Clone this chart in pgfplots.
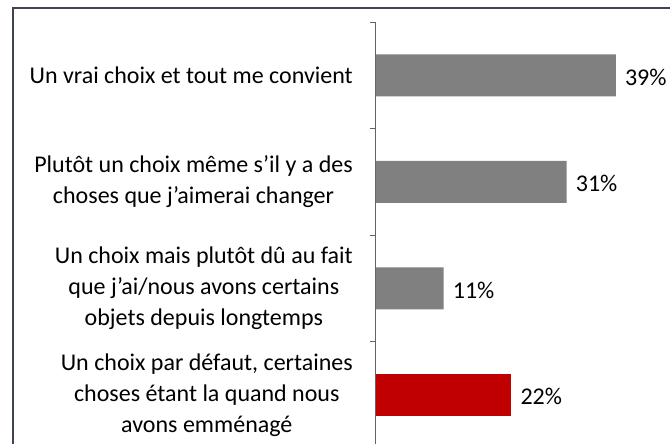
\documentclass[border=0pt]{standalone}
\usepackage{pgfplots}
\pgfplotsset{compat=1.18}
\usepackage{fontspec}
\setmainfont{Carlito}
\definecolor{barGray}{RGB}{128,128,128}
\definecolor{barRed}{RGB}{192,0,0}
\definecolor{axisGray}{RGB}{95,99,110}
\definecolor{frameGray}{RGB}{62,68,80}
\begin{document}
\begin{tikzpicture}
\path[use as bounding box] (0,0) rectangle (670pt,-444pt);
\clip (0,0) rectangle (670pt,-444pt);
\draw[frameGray, line width=2pt] (12.5pt,-8pt) rectangle (720pt,-500pt);
\begin{axis}[
    at={(376pt,-22pt)}, anchor=north west,
    scale only axis,
    width=300pt, height=426pt,
    xmin=0, xmax=48.78,
    ymin=-0.5, ymax=3.5, y dir=reverse,
    xbar, bar width=42pt, bar shift=0pt,
    axis x line=none,
    axis y line*=left,
    y axis line style={axisGray, line width=1pt},
    ytick={0,1,2,3},
    yticklabels={
        {Un vrai choix et tout me convient},
        {Plutôt un choix même s’il y a des\\choses que j’aimerai changer},
        {Un choix mais plutôt dû au fait\\que j’ai/nous avons certains\\objets depuis longtemps},
        {Un choix par défaut, certaines\\choses étant la quand nous\\avons emménagé}},
    major tick length=0pt,
    minor ytick={-0.5,0.5,1.5,2.5,3.5},
    minor tick length=6pt,
    tick align=outside,
    tick style={axisGray, line width=1pt},
    yticklabel style={align=center, inner sep=0pt, xshift=-23pt,
        font=\fontsize{24}{31}\selectfont},
    /pgf/number format/assume math mode=true,
    point meta=x,
    nodes near coords={\pgfmathprintnumber{\pgfplotspointmeta}\%},
    nodes near coords style={inner sep=0pt, xshift=9pt, yshift=-2pt,
        font=\fontsize{24}{31}\selectfont, text=black},
    clip=false,
]
\addplot[fill=barGray, draw=none] coordinates {(39,0) (31,1) (11,2)};
\addplot[fill=barRed, draw=none] coordinates {(22,3)};
\end{axis}
\end{tikzpicture}
\end{document}
